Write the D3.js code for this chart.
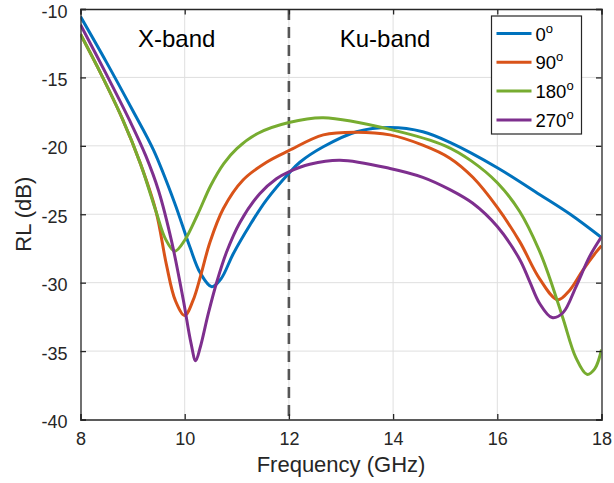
<!DOCTYPE html>
<html>
<head>
<meta charset="utf-8">
<script src="https://cdn.jsdelivr.net/npm/d3@7"></script>
<style>
  body { margin: 0; background: #fff; }
  svg { display: block; font-family: "Liberation Sans", Arial, sans-serif; }
</style>
</head>
<body>
<svg id="chart" width="614" height="483"></svg>
<script>
// values
var freq0 = [8.0, 8.5, 9.0, 9.4, 9.8, 10.1, 10.3, 10.52, 10.7, 10.93, 11.25, 11.57, 12.0, 12.21, 12.66, 13.3, 13.94, 14.57, 15.09, 16.0, 16.81, 17.4, 18.0];
var rl0   = [-10.55, -13.9, -17.4, -20.3, -24.1, -27.4, -29.3, -30.3, -29.7, -27.9, -25.8, -23.95, -22.0, -21.2, -20.07, -18.97, -18.66, -18.97, -19.75, -21.6, -23.55, -25.0, -26.7];

var freq90 = [8.0, 8.4, 8.8, 9.15, 9.45, 9.65, 9.82, 10.0, 10.16, 10.32, 10.48, 10.74, 11.12, 11.57, 12.0, 12.66, 13.3, 13.94, 14.57, 15.09, 15.53, 16.0, 16.43, 16.81, 17.16, 17.39, 17.64, 17.9, 18.0];
var rl90   = [-11.85, -14.8, -18.0, -21.3, -24.8, -28.7, -31.3, -32.4, -31.3, -29.3, -27.1, -24.6, -22.5, -21.2, -20.35, -19.2, -19.0, -19.2, -19.95, -20.9, -22.3, -24.5, -27.0, -29.7, -31.25, -30.55, -29.1, -27.75, -27.3];

var freq180 = [8.0, 8.4, 8.8, 9.15, 9.45, 9.63, 9.81, 10.0, 10.25, 10.5, 10.75, 11.0, 11.4, 12.0, 12.66, 14.0, 15.0, 15.5, 16.0, 16.43, 16.8, 17.0, 17.26, 17.51, 17.72, 17.87, 18.0];
var rl180   = [-11.85, -14.8, -18.0, -21.3, -24.8, -26.8, -27.7, -26.9, -25.0, -22.9, -21.3, -20.2, -19.1, -18.3, -17.95, -18.85, -20.0, -21.1, -22.7, -24.8, -27.6, -29.6, -32.6, -35.5, -36.7, -36.3, -34.9];

var freq270 = [8.0, 8.5, 8.95, 9.25, 9.5, 9.75, 9.97, 10.12, 10.21, 10.3, 10.45, 10.62, 10.8, 11.06, 11.44, 11.76, 12.0, 12.4, 12.98, 13.94, 14.57, 15.09, 15.53, 16.0, 16.43, 16.62, 16.81, 17.05, 17.26, 17.51, 17.77, 18.0];
var rl270   = [-11.15, -14.8, -18.2, -20.7, -23.3, -27.0, -31.2, -34.4, -35.7, -34.7, -32.3, -29.9, -27.8, -25.6, -23.5, -22.4, -21.9, -21.35, -21.05, -21.65, -22.3, -23.2, -24.2, -25.9, -28.3, -29.9, -31.5, -32.55, -32.2, -30.3, -28.1, -26.65];

var seriesNames = ["0", "90", "180", "270"];
var seriesColors = ["#0072BD", "#D95319", "#77AC30", "#7E2F8E"];
var xTicks = [8, 10, 12, 14, 16, 18];
var yTicks = [-40, -35, -30, -25, -20, -15, -10];
var bandEdge = 12;
var bandLabels = [{text: "X-band", f: 10}, {text: "Ku-band", f: 14}];

var margin = {top: 9, right: 12.5, bottom: 63.5, left: 80.5};
var W = 614, H = 483;
var w = W - margin.left - margin.right;
var h = H - margin.top - margin.bottom;

var svg = d3.select("#chart");
var g = svg.append("g").attr("transform", "translate(" + margin.left + "," + margin.top + ")");

var x = d3.scaleLinear().domain([8, 18]).range([0, w]);
var y = d3.scaleLinear().domain([-40, -10]).range([h, 0]);

// grid
g.append("g").selectAll("line").data(xTicks.slice(1, -1)).enter().append("line")
    .attr("x1", function (d) { return x(d); }).attr("x2", function (d) { return x(d); })
    .attr("y1", 0).attr("y2", h)
    .attr("stroke", "#dfdfdf").attr("stroke-width", 1);
g.append("g").selectAll("line").data(yTicks.slice(1, -1)).enter().append("line")
    .attr("y1", function (d) { return y(d); }).attr("y2", function (d) { return y(d); })
    .attr("x1", 0).attr("x2", w)
    .attr("stroke", "#dfdfdf").attr("stroke-width", 1);

// dashed band edge
g.append("line")
    .attr("x1", x(bandEdge)).attr("x2", x(bandEdge))
    .attr("y1", 0).attr("y2", h)
    .attr("stroke", "#555").attr("stroke-width", 2.6)
    .attr("stroke-dasharray", "11,7");

// curves
var freqs = [freq0, freq90, freq180, freq270];
var rls = [rl0, rl90, rl180, rl270];
var line = d3.line()
    .x(function (d) { return x(d[0]); })
    .y(function (d) { return y(d[1]); })
    .curve(d3.curveCatmullRom.alpha(0.5));

g.append("clipPath").attr("id", "clip").append("rect")
    .attr("width", w).attr("height", h);

seriesNames.forEach(function (name, i) {
    var pts = d3.zip(freqs[i], rls[i]);
    g.append("path")
        .datum(pts)
        .attr("clip-path", "url(#clip)")
        .attr("fill", "none")
        .attr("stroke", seriesColors[i])
        .attr("stroke-width", 3)
        .attr("stroke-linejoin", "round")
        .attr("d", line);
});

// axes (ticks inside, box on)
var axCol = "#262626";
var xAxis = g.append("g").attr("transform", "translate(0," + h + ")")
    .call(d3.axisBottom(x).tickValues(xTicks).tickSize(-5.5).tickPadding(13));
var xTop = g.append("g")
    .call(d3.axisTop(x).tickValues(xTicks).tickSize(-5.5).tickFormat(""));
var yAxis = g.append("g")
    .call(d3.axisLeft(y).tickValues(yTicks).tickSize(-5.5).tickPadding(13)
        .tickFormat(function (d) { return String(d).replace("\u2212", "-"); }));
var yRight = g.append("g").attr("transform", "translate(" + w + ",0)")
    .call(d3.axisRight(y).tickValues(yTicks).tickSize(-5.5).tickFormat(""));

[xAxis, xTop, yAxis, yRight].forEach(function (a) {
    a.select(".domain").attr("stroke", axCol).attr("stroke-width", 1.3);
    a.selectAll(".tick line").attr("stroke", axCol).attr("stroke-width", 1.3);
    a.selectAll("text").attr("fill", "#262626").style("font-size", "18px")
        .style("font-family", "'Liberation Sans', Arial, sans-serif");
});
yAxis.selectAll("text").attr("dy", "0.45em");

// axis labels
svg.append("text")
    .attr("x", margin.left + w / 2).attr("y", 472)
    .attr("text-anchor", "middle")
    .attr("fill", "#262626").style("font-size", "22px")
    .text("Frequency (GHz)");
svg.append("text")
    .attr("transform", "translate(31," + (margin.top + h / 2) + ") rotate(-90)")
    .attr("text-anchor", "middle")
    .attr("fill", "#262626").style("font-size", "22px")
    .text("RL (dB)");

// band labels
g.selectAll(".band").data(bandLabels).enter().append("text")
    .attr("class", "band")
    .attr("x", function (d) { return x(d.f) - 8; })
    .attr("y", 38)
    .attr("text-anchor", "middle")
    .attr("fill", "#000").style("font-size", "24px")
    .text(function (d) { return d.text; });

// legend
var lg = svg.append("g").attr("transform", "translate(491.5,16)");
lg.append("rect").attr("width", 90).attr("height", 118)
    .attr("fill", "#fff").attr("stroke", axCol).attr("stroke-width", 1.2);
seriesNames.forEach(function (name, i) {
    var yy = 17.5 + i * 28.8;
    lg.append("line").attr("x1", 5).attr("x2", 40).attr("y1", yy).attr("y2", yy)
        .attr("stroke", seriesColors[i]).attr("stroke-width", 3);
    var t = lg.append("text").attr("x", 44).attr("y", yy + 7)
        .attr("fill", "#000").style("font-size", "18.5px");
    t.append("tspan").text(name);
    t.append("tspan").attr("dy", -8).style("font-size", "13px").text("o");
});
</script>
</body>
</html>
